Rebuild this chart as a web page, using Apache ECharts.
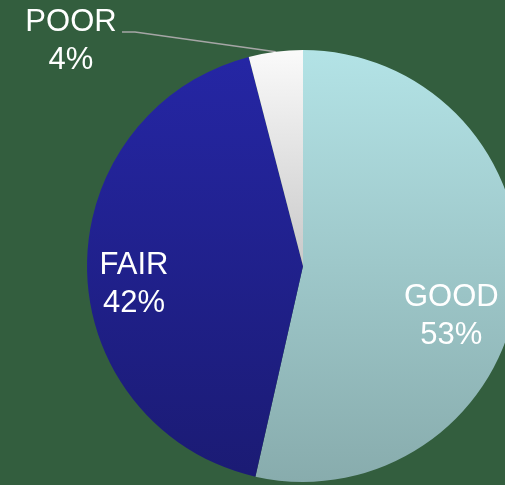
<!DOCTYPE html>
<html>
<head>
<meta charset="utf-8">
<script src="https://cdn.jsdelivr.net/npm/echarts@6/dist/echarts.min.js"></script>
<style>
  html, body { margin: 0; padding: 0; background: #335e3e; }
  #chart { width: 505px; height: 485px; }
</style>
</head>
<body>
<div id="chart"></div>
<script>
// Condition ratings, share of total (%)
const categories = ['GOOD', 'FAIR', 'POOR'];
const shares = [53, 42, 4];

// Vertical gradient stops per slice (top, bottom)
const sliceColors = [
  ['#b3e3e6', '#88acad'],
  ['#2526a4', '#1b1b74'],
  ['#fafafa', '#c9c9c9']
];

const labelFont = { color: '#ffffff', fontSize: 31, fontFamily: 'Liberation Sans, Arial, sans-serif', lineHeight: 38 };

const labelOffsets = [[38, 38], [-58, 17], [0, 0]];

const data = categories.map((name, i) => {
  const item = {
    name: name,
    value: shares[i],
    itemStyle: {
      color: new echarts.graphic.LinearGradient(0, 0, 0, 1, [
        { offset: 0, color: sliceColors[i][0] },
        { offset: 1, color: sliceColors[i][1] }
      ])
    }
  };
  if (i < 2) {
    item.label = Object.assign({ show: true, position: 'inside', offset: labelOffsets[i] }, labelFont);
    item.labelLine = { show: false };
  } else {
    item.label = Object.assign({ show: true, position: 'outside' }, labelFont);
    item.labelLine = { show: true, length: 20, length2: 20, lineStyle: { color: '#a6a6a6', width: 1.5 } };
  }
  return item;
});

const chart = echarts.init(document.getElementById('chart'), null, { renderer: 'canvas' });
chart.setOption({
  backgroundColor: '#335e3e',
  animation: false,
  series: [{
    type: 'pie',
    center: [303, 266],
    radius: 216,
    startAngle: 90,
    clockwise: true,
    avoidLabelOverlap: false,
    itemStyle: { borderWidth: 0 },
    label: { formatter: p => p.name + '\n' + p.value + '%' },
    labelLayout: function (params) {
      if (params.dataIndex !== 2) return;
      const pts = params.labelLinePoints;
      const start = pts && pts[0] ? pts[0] : [276, 53];
      return {
        x: 71, y: 41,
        align: 'center', verticalAlign: 'middle',
        labelLinePoints: [start, [135, 32], [122, 32]]
      };
    },
    data: data
  }]
});
</script>
</body>
</html>
